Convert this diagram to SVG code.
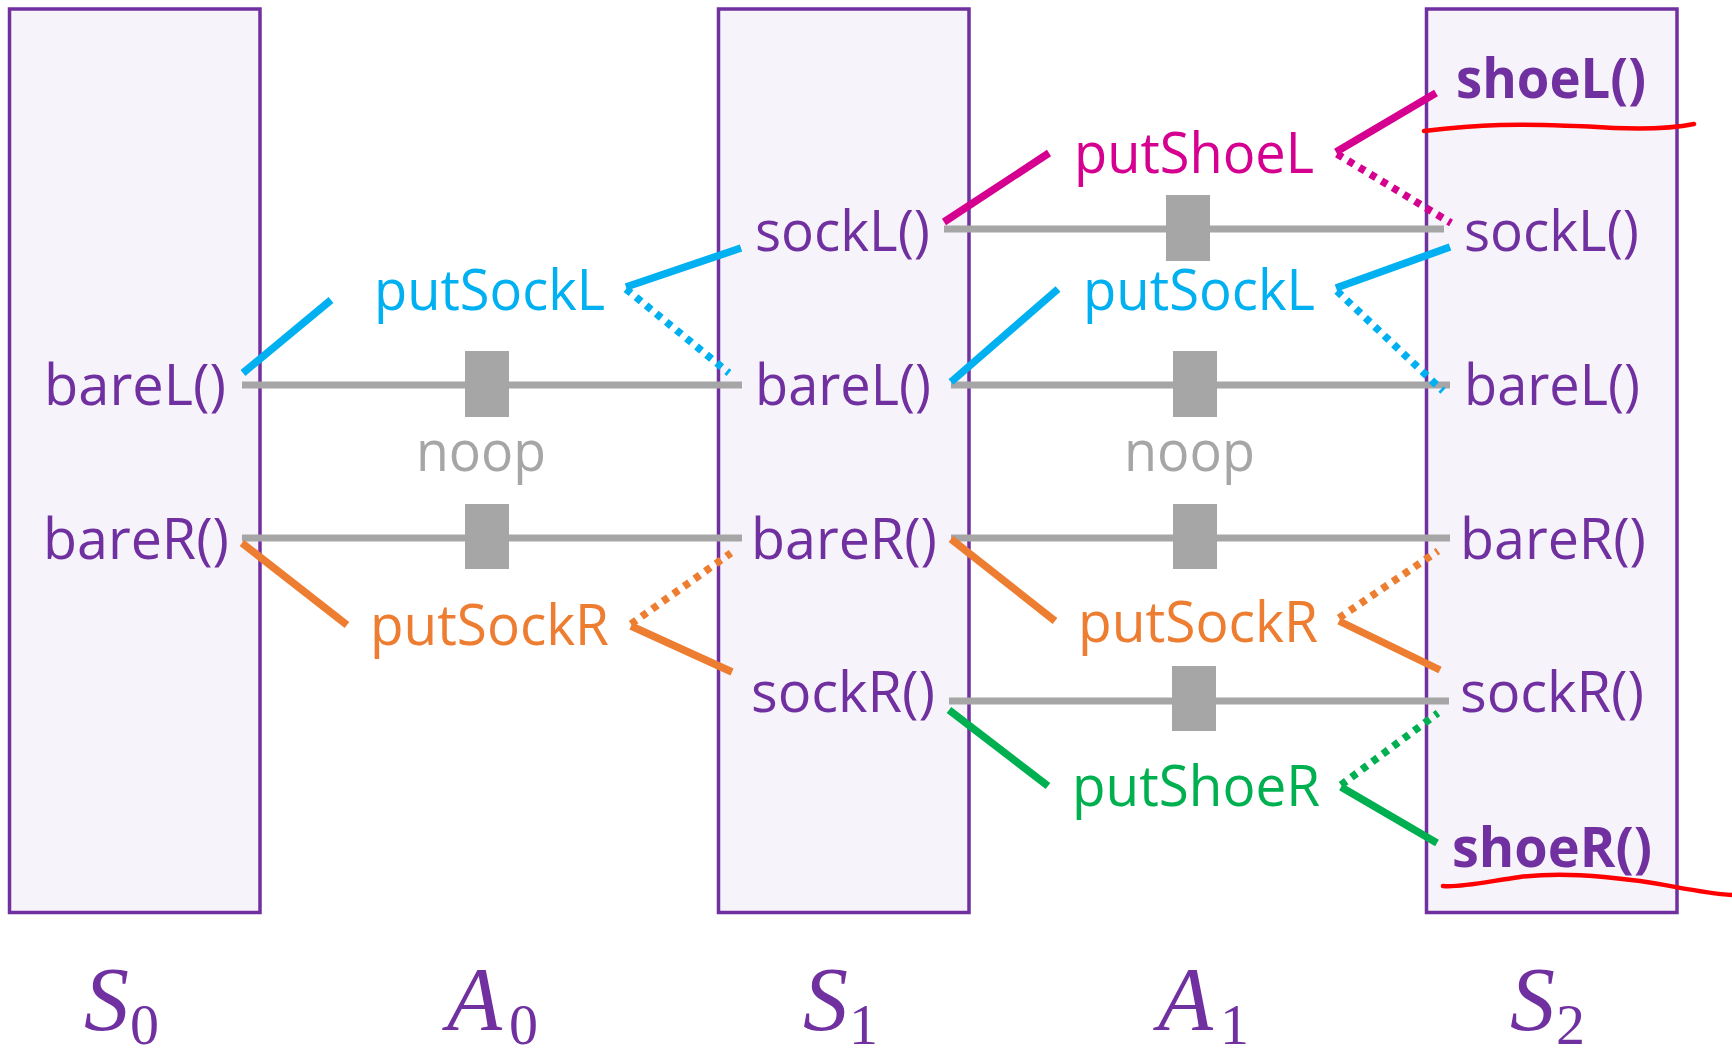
<svg xmlns="http://www.w3.org/2000/svg" width="1732" height="1050" viewBox="0 0 1732 1050">
<style>
.box{fill:#F6F4FA;stroke:#7030A0;stroke-width:3.5}
.t{font-family:"Open Sans","Noto Sans",sans-serif;font-size:56px}
.fl{fill:#7030A0}
.bold{font-weight:bold}
.cy{fill:#00B0F0}.mg{fill:#D5008F}.or{fill:#ED7D31}.gr{fill:#00B050}.gy{fill:#A6A6A6}
.lk{fill:none;stroke-width:7.5;stroke-linecap:butt}
.dot{stroke-dasharray:6.5 6.5}
.lcy{stroke:#00B0F0}.lmg{stroke:#D5008F}.lor{stroke:#ED7D31}.lgr{stroke:#00B050}.lgy{stroke:#A6A6A6;stroke-width:7}
.sq{fill:#A6A6A6}
.red{fill:none;stroke:#FF0000;stroke-width:4.5;stroke-linecap:round}
.m{font-family:"Liberation Serif","Times New Roman",serif;fill:#7030A0}
.mi{font-style:italic;font-size:90px}
.ms{font-size:58px}
</style>

<g id="S0">
<rect class="box" x="9.5" y="9" width="250.5" height="903.5"/>
<text class="t fl" x="44" y="405" textLength="182" lengthAdjust="spacingAndGlyphs">bareL()</text>
<text class="t fl" x="43" y="559" textLength="186" lengthAdjust="spacingAndGlyphs">bareR()</text>
</g>
<g id="S1">
<rect class="box" x="718.5" y="9" width="250.5" height="903.5"/>
<text class="t fl" x="755" y="251" textLength="175" lengthAdjust="spacingAndGlyphs">sockL()</text>
<text class="t fl" x="755" y="405" textLength="176" lengthAdjust="spacingAndGlyphs">bareL()</text>
<text class="t fl" x="751" y="559" textLength="186" lengthAdjust="spacingAndGlyphs">bareR()</text>
<text class="t fl" x="751" y="712" textLength="184" lengthAdjust="spacingAndGlyphs">sockR()</text>
</g>
<g id="S2">
<rect class="box" x="1426.5" y="9" width="250.5" height="903.5"/>
<text class="t fl bold" x="1456" y="98" textLength="190" lengthAdjust="spacingAndGlyphs">shoeL()</text>
<text class="t fl" x="1464" y="251" textLength="175" lengthAdjust="spacingAndGlyphs">sockL()</text>
<text class="t fl" x="1464" y="405" textLength="176" lengthAdjust="spacingAndGlyphs">bareL()</text>
<text class="t fl" x="1460" y="559" textLength="186" lengthAdjust="spacingAndGlyphs">bareR()</text>
<text class="t fl" x="1460" y="712" textLength="184" lengthAdjust="spacingAndGlyphs">sockR()</text>
<text class="t fl bold" x="1452" y="867" textLength="200" lengthAdjust="spacingAndGlyphs">shoeR()</text>
</g>

<g id="A0-putSockL"><text class="t cy" x="374" y="310" textLength="231" lengthAdjust="spacingAndGlyphs">putSockL</text></g>
<g id="A0-noop"><text class="t gy" x="416" y="471" textLength="130" lengthAdjust="spacingAndGlyphs">noop</text></g>
<g id="A0-putSockR"><text class="t or" x="370" y="645" textLength="239" lengthAdjust="spacingAndGlyphs">putSockR</text></g>
<g id="A1-putShoeL"><text class="t mg" x="1074" y="173" textLength="240" lengthAdjust="spacingAndGlyphs">putShoeL</text></g>
<g id="A1-putSockL"><text class="t cy" x="1083" y="310" textLength="232" lengthAdjust="spacingAndGlyphs">putSockL</text></g>
<g id="A1-noop"><text class="t gy" x="1124" y="471" textLength="131" lengthAdjust="spacingAndGlyphs">noop</text></g>
<g id="A1-putSockR"><text class="t or" x="1078" y="642" textLength="240" lengthAdjust="spacingAndGlyphs">putSockR</text></g>
<g id="A1-putShoeR"><text class="t gr" x="1072" y="806" textLength="248" lengthAdjust="spacingAndGlyphs">putShoeR</text></g>

<g id="connectors">
<line class="lk lgy" x1="242" y1="385" x2="742" y2="385"/>
<rect class="sq" x="465" y="351" width="44" height="66"/>
<line class="lk lgy" x1="242" y1="538" x2="742" y2="538"/>
<rect class="sq" x="465" y="504" width="44" height="65"/>
<line class="lk lgy" x1="944" y1="229" x2="1444" y2="229"/>
<rect class="sq" x="1166" y="195" width="44" height="66"/>
<line class="lk lgy" x1="951" y1="385" x2="1450" y2="385"/>
<rect class="sq" x="1173" y="351" width="44" height="66"/>
<line class="lk lgy" x1="951" y1="538" x2="1450" y2="538"/>
<rect class="sq" x="1173" y="504" width="44" height="65"/>
<line class="lk lgy" x1="949" y1="701" x2="1449" y2="701"/>
<rect class="sq" x="1172" y="666" width="44" height="65"/>

<line class="lk lcy" x1="243" y1="373" x2="331" y2="300"/>
<line class="lk lcy" x1="626" y1="287" x2="741" y2="248"/>
<line class="lk lcy dot" x1="626" y1="289" x2="729" y2="373"/>
<line class="lk lor" x1="242" y1="543" x2="347" y2="625"/>
<line class="lk lor dot" x1="631" y1="624" x2="731" y2="553"/>
<line class="lk lor" x1="631" y1="626" x2="732" y2="672"/>
<line class="lk lmg" x1="944" y1="222" x2="1049" y2="153"/>
<line class="lk lmg" x1="1336" y1="152" x2="1436" y2="93"/>
<line class="lk lmg dot" x1="1337" y1="154" x2="1451" y2="223"/>
<line class="lk lcy" x1="951" y1="382" x2="1058" y2="289"/>
<line class="lk lcy" x1="1336" y1="288" x2="1450" y2="247"/>
<line class="lk lcy dot" x1="1337" y1="291" x2="1443" y2="391"/>
<line class="lk lor" x1="951" y1="539" x2="1055" y2="621"/>
<line class="lk lor dot" x1="1339" y1="618" x2="1438" y2="551"/>
<line class="lk lor" x1="1339" y1="621" x2="1440" y2="670"/>
<line class="lk lgr" x1="949" y1="710" x2="1048" y2="786"/>
<line class="lk lgr dot" x1="1341" y1="785" x2="1438" y2="713"/>
<line class="lk lgr" x1="1341" y1="787" x2="1437" y2="843"/>
</g>

<g id="annotations">
<path class="red" d="M1424,131 C1450,128 1470,126 1500,125 C1540,124 1580,126 1614,128 C1640,129 1670,129 1694,124"/>
<path class="red" d="M1443,886 C1460,888 1490,881 1520,877 C1560,872 1600,876 1640,881 C1670,885 1700,893 1732,895"/>
</g>

<g id="labels">
<text class="m" x="84" y="1030"><tspan class="mi">S</tspan><tspan class="ms" x="130" y="1044">0</tspan></text>
<text class="m" x="447" y="1030"><tspan class="mi">A</tspan><tspan class="ms" x="509" y="1044">0</tspan></text>
<text class="m" x="803" y="1030"><tspan class="mi">S</tspan><tspan class="ms" x="849" y="1044">1</tspan></text>
<text class="m" x="1158" y="1030"><tspan class="mi">A</tspan><tspan class="ms" x="1220" y="1044">1</tspan></text>
<text class="m" x="1510" y="1030"><tspan class="mi">S</tspan><tspan class="ms" x="1556" y="1044">2</tspan></text>
</g>
</svg>
